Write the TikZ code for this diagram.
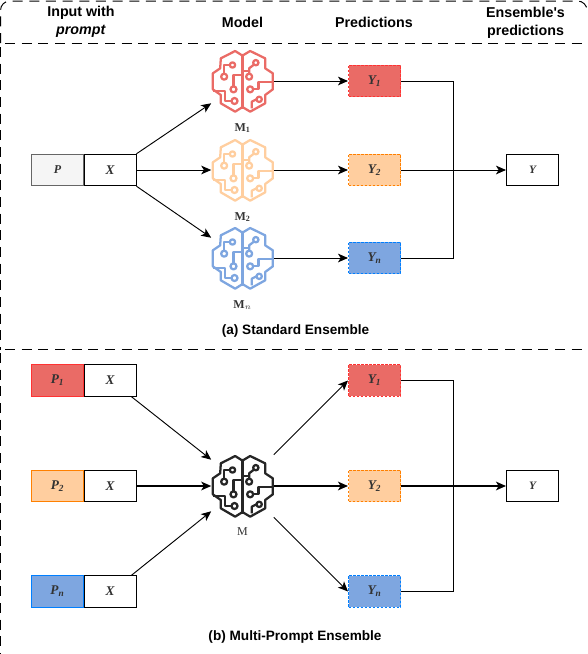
\documentclass[tikz,border=0pt]{standalone}
\usepackage{fontspec}
\setmainfont{Liberation Serif}
\setsansfont{Liberation Sans}
\newfontfamily\headfont{Liberation Sans}
\usepackage{xcolor}
\usetikzlibrary{arrows.meta,positioning,calc}
\definecolor{cRed}{HTML}{EA6B66}
\definecolor{cRedL}{HTML}{FF3333}
\definecolor{cOra}{HTML}{FFCE9F}
\definecolor{cOraL}{HTML}{FF8000}
\definecolor{cBlu}{HTML}{7EA6E0}
\definecolor{cBluL}{HTML}{007FFF}
\definecolor{cGrey}{HTML}{F5F5F5}
\definecolor{cGreyL}{HTML}{666666}
\definecolor{cText}{HTML}{333333}
\tikzset{
  x=0.75pt, y=-0.75pt,
  blk/.style    = {rectangle, draw=black, line width=0.75pt, fill=white, inner sep=0pt,
                   minimum width=39pt, minimum height=23.6pt, font=\fontsize{10}{12}\selectfont\bfseries\itshape, text=cText},
  pbox/.style   = {blk, draw=#1L, fill=#1},
  ybox/.style   = {blk, draw=#1L, fill=#1, dash pattern=on 2pt off 1pt},
  graybox/.style= {blk, draw=cGreyL, fill=cGrey, font=\fontsize{9}{11}\selectfont\bfseries\itshape},
  outb/.style   = {blk, font=\fontsize{8.5}{10}\selectfont\bfseries\itshape},
  head/.style   = {font=\headfont\bfseries\fontsize{10.7}{13.4}\selectfont, align=center, inner sep=0pt},
  capt/.style   = {font=\sffamily\bfseries\fontsize{10.2}{12}\selectfont, inner sep=0pt},
  mlab/.style   = {font=\fontsize{9}{11}\selectfont\bfseries, text=cText, inner sep=0pt},
  brainb/.style = {rectangle, minimum width=46.5pt, minimum height=46.5pt, inner sep=0pt},
  fl/.style     = {-{Stealth[length=7.5pt,width=6.5pt,inset=2pt]}, draw=black, line width=0.7pt},
  flk/.style    = {fl, line width=1.2pt},
  ln/.style     = {draw=black, line width=0.75pt},
  frm/.style    = {draw=black, line width=0.75pt, dash pattern=on 7.5pt off 5pt},
  brain/.pic = {
    \begin{scope}[draw=#1, line width=1.7pt, line join=round, x=0.25pt, y=-0.25pt]
      % outline, both halves
      \draw (-3,-78) -- (-22,-90) -- (-65,-68) -- (-67,-38) -- (-89,-23) -- (-89,25) -- (-65,42) -- (-65,67) -- (-22,92) -- (-3,80) -- (3,80) -- (23,92) -- (68,67) -- (68,42) -- (91,25) -- (91,-23) -- (68,-38) -- (68,-68) -- (23,-90) -- (3,-78) -- cycle;
      \draw (0,-78) -- (0,80);
      % left half
      \draw (-30,-48) circle (8);
      \draw (-38,-48) -- (-55,-48) -- (-55,-22);
      \draw (-55,-13) circle (9);
      \draw (-27,25) circle (9);
      \draw (-27,16) -- (-27,-18) -- (0,-18);
      \draw (-24,60) circle (9);
      \draw (-33,60) -- (-52,60) -- (-52,29) -- (-89,29);
      % right half
      \draw (40,-55) circle (8);
      \draw (34,-49) -- (20,-38) -- (20,-22);
      \draw (20,-13) circle (9);
      \draw (0,-31) -- (20,-31);
      \draw (23,25) circle (9);
      \draw (32,25) -- (48,25) -- (48,2) -- (91,2);
      \draw (50,55) circle (8);
      \draw (42,55) -- (28,62) -- (28,82);
    \end{scope}
  },
}
\begin{document}
\begin{tikzpicture}
  \useasboundingbox (0,0) rectangle (588,654);

  % dashed frames
  \draw[frm, rounded corners=7pt] (0.5,43) -- (0.5,1) -- (587,1) -- (587,8);
  \draw[frm] (5,43) -- (588,43);
  \draw[frm] (0.5,47) -- (0.5,349.5);
  \draw[frm] (5,349.5) -- (588,349.5);
  \draw[frm] (0.5,353) -- (0.5,654);

  % header
  \node[head] (hin) at (81,22) {Input with\\\textit{prompt}};
  \node[head] (hmod) at (242.5,22) {Model};
  \node[head] (hpred) at (374,22) {Predictions};
  \node[head] (hens) at (525.5,23) {Ensemble's\\predictions};

  % standard ensemble
  \node[graybox] (p) at (57.5,170) {P};
  \node[blk] (x) at (110,170) {X};

  \node[brainb] (m1) at (242.5,81) {};
  \node[brainb] (m2) at (242.5,170) {};
  \node[brainb] (mn) at (242.5,258) {};
  \pic at (m1) {brain=cRed};
  \pic at (m2) {brain=cOra};
  \pic at (mn) {brain=cBlu};
  \node[mlab] (lm1) at (242.5,128) {M$_{\mathbf{1}}$};
  \node[mlab] (lm2) at (242.5,217) {M$_{\mathbf{2}}$};
  \node[mlab] (lmn) at (242.5,305) {M$_{n}$};

  \node[ybox=cRed] (y1) at (374.5,81) {Y\textsubscript{1}};
  \node[ybox=cOra] (y2) at (374.5,170) {Y\textsubscript{2}};
  \node[ybox=cBlu] (yn) at (374.5,258) {Y\textsubscript{n}};
  \node[outb] (y) at (532.5,170) {Y};
  \node[capt] (capa) at (295.5,331) {(a) Standard Ensemble};

  \draw[fl] (x.north east) -- ($(m1.south west)+(0,-9)$);
  \draw[fl] (x) -- (m2);
  \draw[fl] (x.south east) -- ($(mn.north west)+(0,11)$);
  \draw[fl] (m1) -- (y1);
  \draw[fl] (m2) -- (y2);
  \draw[fl] (mn) -- (yn);
  \draw[fl] (y2) -- (y);
  \draw[ln] (y1.east) -- ++(52.5,0) |- (yn.east);

  % multi-prompt ensemble
  \node[pbox=cRed] (p1) at (57.5,380.5) {P\textsubscript{1}};
  \node[blk] (x1) at (110,380.5) {X};
  \node[pbox=cOra] (p2) at (57.5,486) {P\textsubscript{2}};
  \node[blk] (x2) at (110,486) {X};
  \node[pbox=cBlu] (pn) at (57.5,591.5) {P\textsubscript{n}};
  \node[blk] (x3) at (110,591.5) {X};

  \node[brainb] (m) at (242.5,486) {};
  \pic at (m) {brain=black!85};
  \node[mlab, font=\fontsize{9}{11}\selectfont] (lm) at (242.5,532) {M};

  \node[ybox=cRed] (yy1) at (374.5,380.5) {Y\textsubscript{1}};
  \node[ybox=cOra] (yy2) at (374.5,486) {Y\textsubscript{2}};
  \node[ybox=cBlu] (yyn) at (374.5,591.5) {Y\textsubscript{n}};
  \node[outb] (yy) at (532.5,486) {Y};
  \node[capt] (capb) at (295,636.5) {(b) Multi-Prompt Ensemble};

  \draw[fl] ($(x1.south east)+(-5,0)$) -- ($(m.north west)+(0,5)$);
  \draw[flk] (x2) -- (m);
  \draw[fl] ($(x3.north east)+(-5,0)$) -- ($(m.south west)+(0,-6)$);
  \draw[fl] (m.north east) -- (yy1.west);
  \draw[flk] (m) -- (yy2);
  \draw[fl] (m.south east) -- (yyn.west);
  \draw[flk] (yy2) -- (yy);
  \draw[ln] (yy1.east) -- ++(52.5,0) |- (yyn.east);
\end{tikzpicture}
\end{document}
